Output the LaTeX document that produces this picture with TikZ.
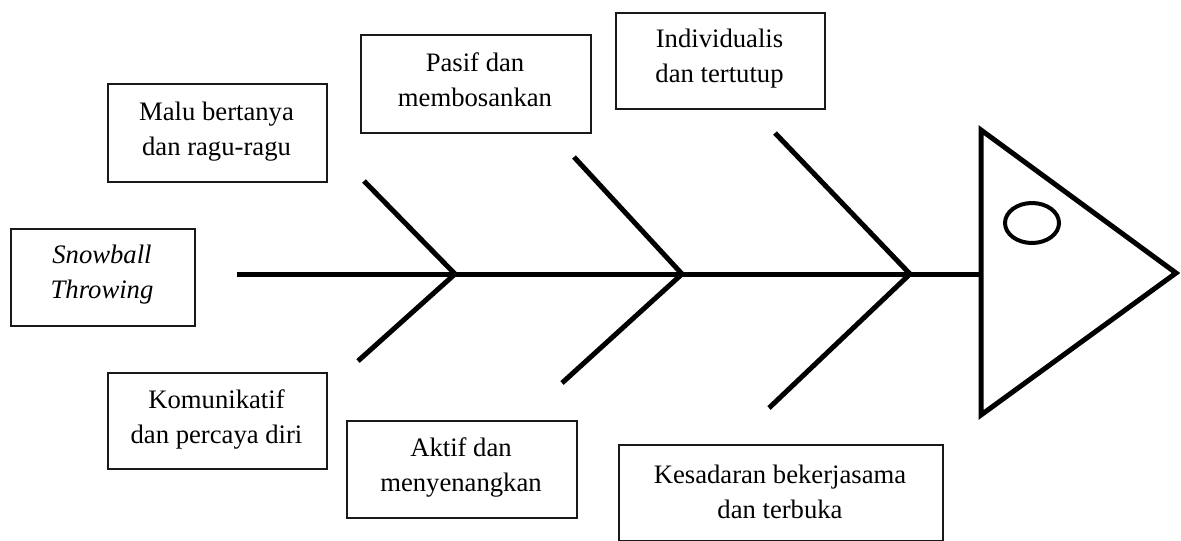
\documentclass[tikz,border=0pt]{standalone}
\usepackage{fontspec}
\setmainfont{Liberation Serif}
\usetikzlibrary{shapes.geometric}
\begin{document}
\begin{tikzpicture}[x=0.75pt,y=-0.75pt,
  box/.style={draw=black!90,line width=1.6pt,fill=white,inner sep=0pt,anchor=north west},
  lab/.style={align=center,inner sep=0pt,anchor=north,font=\fontsize{20}{26.25}\selectfont},
  bone/.style={line width=3.75pt,line join=miter,line cap=butt},
  head/.style={line width=3.75pt,line join=miter}]
\useasboundingbox (0,0) rectangle (1181,540);
\fill[white] (0,0) rectangle (1181,540);
% boxes
\node[box,minimum width=164.25pt,minimum height=73.5pt] (malub) at (107,83) {};
\node[box,minimum width=138pt,minimum height=72.75pt] (snowb) at (10,228) {};
\node[box,minimum width=164.25pt,minimum height=72pt] (komb) at (107,372) {};
\node[box,minimum width=172.5pt,minimum height=73.5pt] (pasifb) at (360,34) {};
\node[box,minimum width=172.5pt,minimum height=72.75pt] (aktifb) at (346,420) {};
\node[box,minimum width=156.75pt,minimum height=72pt] (indb) at (615,12) {};
\node[box,minimum width=243pt,minimum height=72pt] (kesb) at (618,444) {};
% texts
\node[lab] (malu) at (216.5,102) {Malu bertanya\\dan ragu-ragu};
\node[lab,font=\fontsize{20}{26.25}\selectfont\itshape] (snow) at (102,245) {Snowball\\Throwing};
\node[lab] (kom) at (216.5,389) {Komunikatif\\dan percaya diri};
\node[lab] (pasif) at (475,52) {Pasif dan\\membosankan};
\node[lab] (aktif) at (461,437) {Aktif dan\\menyenangkan};
\node[lab] (ind) at (719.5,29) {Individualis\\dan tertutup};
\node[lab] (kes) at (780,465) {Kesadaran bekerjasama\\dan terbuka};
% fish skeleton
\coordinate (tail) at (237,274);
\coordinate (j1) at (455,274);
\coordinate (j2) at (682,274);
\coordinate (j3) at (910,274);
\coordinate (hl) at (981,274);
\coordinate (u1) at (364,181);
\coordinate (l1) at (358,361);
\coordinate (u2) at (574,157);
\coordinate (l2) at (562,383);
\coordinate (u3) at (775,133);
\coordinate (l3) at (769,408);
\draw[bone] (tail) -- (hl);
\draw[bone] (u1) -- (j1) -- (l1);
\draw[bone] (u2) -- (j2) -- (l2);
\draw[bone] (u3) -- (j3) -- (l3);
% head
\coordinate (ht) at (981,130);
\coordinate (hb) at (981,415);
\coordinate (hp) at (1176,273);
\draw[head] (ht) -- (hp) -- (hb) -- cycle;
\node[draw,ellipse,line width=3pt,minimum width=40.5pt,minimum height=30pt,inner sep=0pt] (eye) at (1032,223) {};
\end{tikzpicture}
\end{document}
